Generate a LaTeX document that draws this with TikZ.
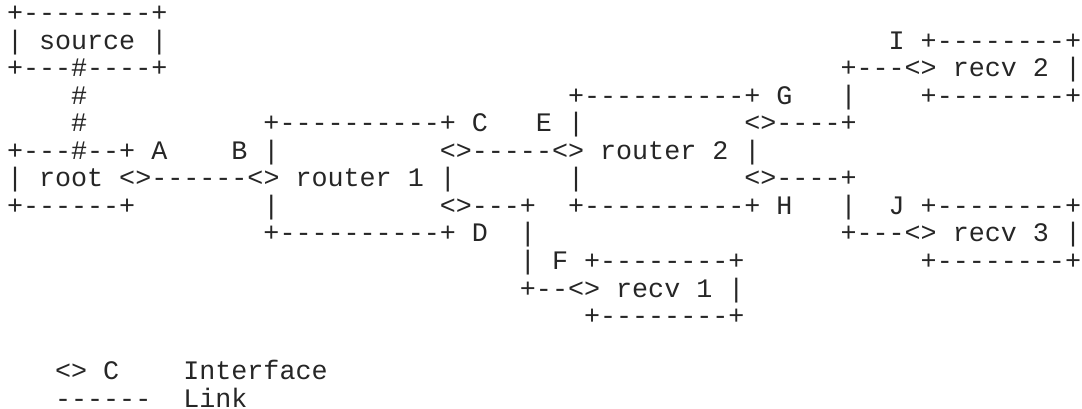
\documentclass[tikz,border=0pt]{standalone}
\usepackage{fontspec}
\setmonofont{Liberation Mono}
\newcommand\asciifont{\ttfamily\fontsize{26.72}{27.5}\selectfont}
\tikzset{asc/.style={anchor=base west, inner sep=0pt, outer sep=0pt, text depth=0pt, font=\asciifont, text=black!85}}
% one text segment at column #2 and row #3
\newcommand\Aseg[4]{\node[asc] (#1) at ({7+16.03*#2},{21.5+27.55*(#3-1)}) {#4};}
\begin{document}
\begin{tikzpicture}[x=1pt,y=-1pt]
\useasboundingbox (0,0) rectangle (1082,408);
% row 1
\Aseg{srcTop}{0}{1}{+--------+}
% row 2
\Aseg{srcMid}{0}{2}{| source |}
\Aseg{rtwoTop}{55}{2}{I +--------+}
% row 3
\Aseg{srcBot}{0}{3}{+---\#----+}
\Aseg{rtwoMid}{52}{3}{+---<> recv 2 |}
% row 4
\Aseg{hashA}{4}{4}{\#}
\Aseg{routTwoTop}{35}{4}{+----------+ G}
\Aseg{linkGup}{52}{4}{|}
\Aseg{rtwoBot}{57}{4}{+--------+}
% row 5
\Aseg{hashB}{4}{5}{\#}
\Aseg{routOneTop}{16}{5}{+----------+ C}
\Aseg{labE}{33}{5}{E |}
\Aseg{ifG}{46}{5}{<>----+}
% row 6
\Aseg{rootTop}{0}{6}{+---\#--+ A}
\Aseg{labB}{14}{6}{B |}
\Aseg{routTwoMid}{27}{6}{<>-----<> router 2 |}
% row 7
\Aseg{rootMid}{0}{7}{| root <>------<> router 1 |}
\Aseg{routTwoL}{35}{7}{|}
\Aseg{ifH}{46}{7}{<>----+}
% row 8
\Aseg{rootBot}{0}{8}{+------+}
\Aseg{routOneL}{16}{8}{|}
\Aseg{ifD}{27}{8}{<>---+}
\Aseg{routTwoBot}{35}{8}{+----------+ H}
\Aseg{linkHdown}{52}{8}{|}
\Aseg{rthreeTop}{55}{8}{J +--------+}
% row 9
\Aseg{routOneBot}{16}{9}{+----------+ D}
\Aseg{linkDdown}{32}{9}{|}
\Aseg{rthreeMid}{52}{9}{+---<> recv 3 |}
% row 10
\Aseg{roneTop}{32}{10}{| F +--------+}
\Aseg{rthreeBot}{57}{10}{+--------+}
% row 11
\Aseg{roneMid}{32}{11}{+--<> recv 1 |}
% row 12
\Aseg{roneBot}{36}{12}{+--------+}
% legend
\Aseg{legIf}{3}{14}{<> C}
\Aseg{legIfTxt}{11}{14}{Interface}
\Aseg{legLink}{3}{15}{------}
\Aseg{legLinkTxt}{11}{15}{Link}
\end{tikzpicture}
\end{document}
